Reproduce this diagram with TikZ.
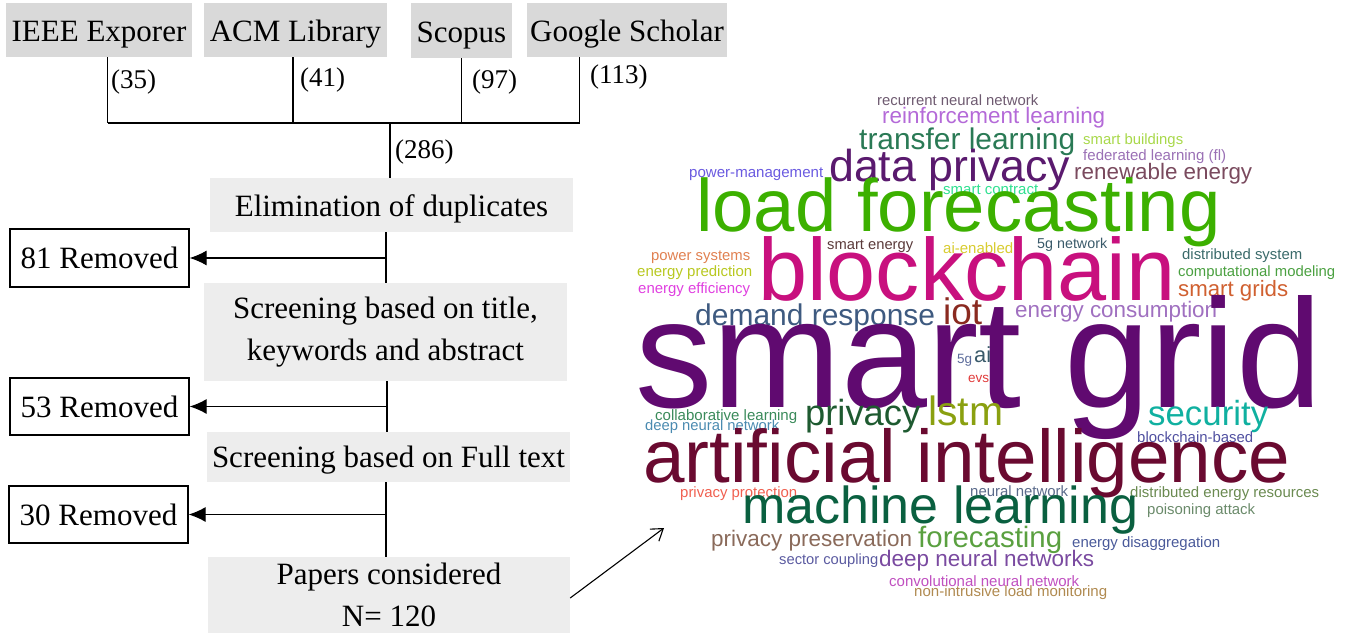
\documentclass[tikz,border=0pt]{standalone}
\usepackage{graphicx}
\usepackage{fontspec}
\setmainfont{Liberation Serif}
\newfontfamily\cloudfont{Liberation Sans}
\usetikzlibrary{arrows.meta}
\definecolor{srcgray}{HTML}{D9D9D9}
\definecolor{stepgray}{HTML}{EDEDED}
\definecolor{cRec}{HTML}{6E5A70}
\definecolor{cReinf}{HTML}{B46AD8}
\definecolor{cTransfer}{HTML}{2A7A55}
\definecolor{cSmartB}{HTML}{A8D84A}
\definecolor{cFed}{HTML}{9A70B5}
\definecolor{cData}{HTML}{5A1A6E}
\definecolor{cPower}{HTML}{6A5AE0}
\definecolor{cRenew}{HTML}{7A4A5E}
\definecolor{cContract}{HTML}{30E090}
\definecolor{cLoad}{HTML}{3CB000}
\definecolor{cSmartE}{HTML}{5A3A3A}
\definecolor{cAiEn}{HTML}{D8CC30}
\definecolor{cFiveNet}{HTML}{3A5A6A}
\definecolor{cDistSys}{HTML}{3A6A6A}
\definecolor{cPowSys}{HTML}{E08050}
\definecolor{cEnPred}{HTML}{B8C820}
\definecolor{cEnEff}{HTML}{E040E0}
\definecolor{cBlock}{HTML}{C8107E}
\definecolor{cComp}{HTML}{4AA040}
\definecolor{cSGrids}{HTML}{D06030}
\definecolor{cDemand}{HTML}{3E5A80}
\definecolor{cIot}{HTML}{8A2A20}
\definecolor{cEnCons}{HTML}{A070C0}
\definecolor{cSmartGrid}{HTML}{600A70}
\definecolor{cFiveG}{HTML}{5A6A9A}
\definecolor{cAi}{HTML}{3A5A6A}
\definecolor{cEvs}{HTML}{E03A3A}
\definecolor{cCollab}{HTML}{3A8A5A}
\definecolor{cDeepNN}{HTML}{4A8AB0}
\definecolor{cPrivacy}{HTML}{1E5A30}
\definecolor{cLstm}{HTML}{8AA010}
\definecolor{cSecurity}{HTML}{10B0A0}
\definecolor{cBBased}{HTML}{5050A0}
\definecolor{cArtInt}{HTML}{6A0A30}
\definecolor{cPrivProt}{HTML}{F06050}
\definecolor{cNeural}{HTML}{5A6A8A}
\definecolor{cDER}{HTML}{6A8A50}
\definecolor{cML}{HTML}{0A6040}
\definecolor{cPoison}{HTML}{6A8A6A}
\definecolor{cPrivPres}{HTML}{8A6A5A}
\definecolor{cForecast}{HTML}{5AA040}
\definecolor{cDisagg}{HTML}{4A5A9A}
\definecolor{cSector}{HTML}{5A5AA0}
\definecolor{cDeepNNs}{HTML}{7A4AA0}
\definecolor{cConv}{HTML}{C050C0}
\definecolor{cNILM}{HTML}{B08A50}
\begin{document}
\begin{tikzpicture}[x=1pt,y=-1pt,
  srcbox/.style={fill=srcgray, inner sep=0pt, text height=30.5pt, text depth=6.5pt, font=\fontsize{31}{42}\selectfont},
  stepbox/.style={fill=stepgray, inner sep=0pt, align=center, font=\fontsize{31}{42}\selectfont},
  rembox/.style={draw=black, line width=1.3pt, inner sep=0pt, minimum width=179pt, font=\fontsize{31}{42}\selectfont},
  count/.style={anchor=west, inner sep=0pt, font=\fontsize{27}{30}\selectfont},
  link/.style={line width=1.1pt},
  remarrow/.style={line width=1.1pt, -{Latex[length=17pt,width=15pt]}},
  word/.style={anchor=base west, inner sep=0pt, font=\cloudfont}]
\useasboundingbox (0,0) rectangle (1351,636);

% source boxes
\node[srcbox, minimum width=186pt, minimum height=54pt] (ieee) at (99,30) {IEEE Exporer};
\node[srcbox, minimum width=183pt, minimum height=54pt] (acm) at (295.5,30) {ACM Library};
\node[srcbox, minimum width=101pt, minimum height=55pt] (scopus) at (461.5,30.5) {Scopus};
\node[srcbox, minimum width=200pt, minimum height=54pt] (gs) at (627,30) {Google Scholar};

% junction coordinates
\coordinate (j1) at (107.6,123);
\coordinate (j2) at (293,123);
\coordinate (j3) at (461.6,123);
\coordinate (j4) at (579.5,123);
\coordinate (jc) at (390,123);

\draw[link] (ieee.south -| j1) -- (j1);
\draw[link] (acm.south -| j2) -- (j2);
\draw[link] (scopus.south -| j3) -- (j3);
\draw[link] (gs.south -| j4) -- (j4);
\draw[link] (j1) -- (j4);

\node[count] (n35) at (111,82) {(35)};
\node[count] (n41) at (300,80) {(41)};
\node[count] (n97) at (472,82) {(97)};
\node[count] (n113) at (590,77) {(113)};
\node[count] (n286) at (395,152) {(286)};

% process boxes
\node[stepbox, minimum width=363pt, minimum height=54pt, text height=31pt, text depth=7pt] (elim) at (391.5,205) {Elimination of duplicates};
\node[stepbox, minimum width=363pt, minimum height=98pt] (title) at (385.5,332) {Screening based on title,\\keywords and abstract};
\node[stepbox, minimum width=363pt, minimum height=50pt, text height=27pt, text depth=7pt] (full) at (388.5,457) {Screening based on Full text};
\node[stepbox, minimum width=362pt, minimum height=76pt] (papers) at (389,595) {Papers considered\\N= 120};

\draw[link] (jc) -- (elim.north -| jc);

% removed boxes
\node[rembox, minimum height=58pt] (r81) at (99.5,258) {81 Removed};
\node[rembox, minimum height=57pt] (r53) at (99.5,406.5) {53 Removed};
\node[rembox, minimum height=57pt] (r30) at (98.5,514.5) {30 Removed};

\coordinate (b1) at (386,258);
\coordinate (b2) at (387,406.5);
\coordinate (b3) at (386,514.5);

\draw[link] (elim.south -| b1) -- (title.north -| b1);
\draw[link] (title.south -| b2) -- (full.north -| b2);
\draw[link] (full.south -| b3) -- (papers.north -| b3);

\draw[remarrow] (b1) -- (r81);
\draw[remarrow] (b2) -- (r53);
\draw[remarrow] (b3) -- (r30);

\coordinate (cloud) at (664,528);
\draw[line width=1.1pt, -{Straight Barb[length=11pt,width=15pt]}] ([yshift=-3pt]papers.east) -- (cloud);

% word cloud
\node[word, text=cRec] (w1) at (877,105.7) {\resizebox{161pt}{!}{recurrent neural network}};
\node[word, text=cReinf] (w2) at (882,124) {\resizebox{223pt}{!}{reinforcement learning}};
\node[word, text=cTransfer] (w3) at (859,149.3) {\resizebox{216pt}{!}{transfer learning}};
\node[word, text=cSmartB] (w4) at (1083,144.3) {\resizebox{100pt}{!}{smart buildings}};
\node[word, text=cFed] (w5) at (1083,161) {\resizebox{143pt}{!}{federated learning (fl)}};
\node[word, text=cData] (w6) at (829,182) {\resizebox{241pt}{!}{data privacy}};
\node[word, text=cPower] (w7) at (689,177.7) {\resizebox{134pt}{!}{power-management}};
\node[word, text=cRenew] (w8) at (1074,179.3) {\resizebox{178pt}{!}{renewable energy}};
\node[word, text=cContract] (w9) at (943,194.3) {\resizebox{95pt}{!}{smart contract}};
\node[word, text=cLoad] (w10) at (696,232) {\resizebox{524pt}{!}{load forecasting}};
\node[word, text=cSmartE] (w11) at (827,250) {\resizebox{86pt}{!}{smart energy}};
\node[word, text=cAiEn] (w12) at (943,254) {\resizebox{70pt}{!}{ai-enabled}};
\node[word, text=cFiveNet] (w13) at (1037,249) {\resizebox{70pt}{!}{5g network}};
\node[word, text=cDistSys] (w14) at (1182,260) {\resizebox{120pt}{!}{distributed system}};
\node[word, text=cPowSys] (w15) at (651,260.7) {\resizebox{99pt}{!}{power systems}};
\node[word, text=cEnPred] (w16) at (637,276.7) {\resizebox{115pt}{!}{energy prediction}};
\node[word, text=cEnEff] (w17) at (638,293.3) {\resizebox{112pt}{!}{energy efficiency}};
\node[word, text=cBlock] (w18) at (758,300) {\resizebox{417pt}{!}{blockchain}};
\node[word, text=cComp] (w19) at (1178,276.7) {\resizebox{157pt}{!}{computational modeling}};
\node[word, text=cSGrids] (w20) at (1178,296) {\resizebox{110pt}{!}{smart grids}};
\node[word, text=cDemand] (w21) at (695,325) {\resizebox{240pt}{!}{demand response}};
\node[word, text=cIot] (w22) at (943,324) {\resizebox{39pt}{!}{iot}};
\node[word, text=cEnCons] (w23) at (1015,317.3) {\resizebox{202pt}{!}{energy consumption}};
\node[word, text=cSmartGrid] (w24) at (635,407) {\resizebox{687pt}{!}{smart grid}};
\node[word, text=cFiveG] (w25) at (957,363) {\resizebox{15pt}{!}{5g}};
\node[word, text=cAi] (w26) at (974,362) {\resizebox{17pt}{!}{ai}};
\node[word, text=cEvs] (w27) at (968,382) {\resizebox{21pt}{!}{evs}};
\node[word, text=cCollab] (w28) at (655,420) {\resizebox{142pt}{!}{collaborative learning}};
\node[word, text=cDeepNN] (w29) at (645,430) {\resizebox{134pt}{!}{deep neural network}};
\node[word, text=cPrivacy] (w30) at (805,425) {\resizebox{115pt}{!}{privacy}};
\node[word, text=cLstm] (w31) at (928,425) {\resizebox{75pt}{!}{lstm}};
\node[word, text=cSecurity] (w32) at (1148,425) {\resizebox{120pt}{!}{security}};
\node[word, text=cBBased] (w33) at (1137,442) {\resizebox{116pt}{!}{blockchain-based}};
\node[word, text=cArtInt] (w34) at (643,482) {\resizebox{647pt}{!}{artificial intelligence}};
\node[word, text=cPrivProt] (w35) at (680,497.3) {\resizebox{117pt}{!}{privacy protection}};
\node[word, text=cNeural] (w36) at (970,496.7) {\resizebox{98pt}{!}{neural network}};
\node[word, text=cDER] (w37) at (1130,497.3) {\resizebox{189pt}{!}{distributed energy resources}};
\node[word, text=cML] (w38) at (742,523) {\resizebox{396pt}{!}{machine learning}};
\node[word, text=cPoison] (w39) at (1147,514) {\resizebox{108pt}{!}{poisoning attack}};
\node[word, text=cPrivPres] (w40) at (711,546) {\resizebox{201pt}{!}{privacy preservation}};
\node[word, text=cForecast] (w41) at (918,547.7) {\resizebox{144pt}{!}{forecasting}};
\node[word, text=cDisagg] (w42) at (1072,547.7) {\resizebox{148pt}{!}{energy disaggregation}};
\node[word, text=cSector] (w43) at (779,564) {\resizebox{99pt}{!}{sector coupling}};
\node[word, text=cDeepNNs] (w44) at (879,566.7) {\resizebox{215pt}{!}{deep neural networks}};
\node[word, text=cConv] (w45) at (889,586) {\resizebox{190pt}{!}{convolutional neural network}};
\node[word, text=cNILM] (w46) at (914,596.7) {\resizebox{193pt}{!}{non-intrusive load monitoring}};
\end{tikzpicture}
\end{document}
